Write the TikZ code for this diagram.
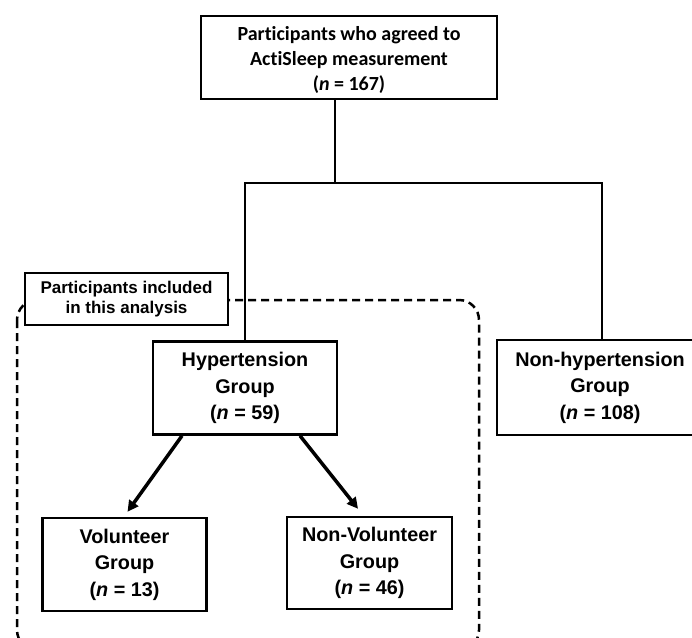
\documentclass[tikz,border=0pt]{standalone}
\usepackage{fontspec}
\setmainfont{Liberation Sans}
\newfontfamily\calibfont[Ligatures={NoCommon}]{Carlito}
\usetikzlibrary{arrows.meta}
\begin{document}
\begin{tikzpicture}[x=1pt,y=-1pt,
  box/.style={draw=black, line width=2.5pt, fill=white, inner sep=0pt, align=center,
    font=\bfseries\fontsize{19.8pt}{26.6pt}\selectfont},
  topbox/.style={box, font=\calibfont\bfseries\fontsize{20pt}{25.3pt}\selectfont},
  labelbox/.style={box, font=\bfseries\fontsize{17pt}{20pt}\selectfont},
  conn/.style={line width=2.5pt, line cap=rect},
  arr/.style={line width=3.5pt, -{Triangle[length=11pt,width=11pt]}},
  dashbox/.style={line width=2.5pt, dash pattern=on 8pt off 5pt, rounded corners=20pt}
]
\useasboundingbox (0,0) rectangle (692,637);
\clip (0,0) rectangle (692,637);
\fill[white] (0,0) rectangle (692,637);

% dashed region
\coordinate (dtl) at (17,300);
\coordinate (dbr) at (479,650);
\draw[dashbox] (dtl) rectangle (dbr);

% nodes
\node[topbox, minimum width=296pt, minimum height=83pt] (top) at (349,57.5) {};
\node[topbox, draw=none, fill=none] (toptext) at (349,60)
  {Participants who agreed to\\ActiSleep measurement\\(\textit{n} = 167)};
\node[box, minimum width=184pt, minimum height=93pt] (hyp) at (245,388)
  {Hypertension\\Group\\(\textit{n} = 59)};
\node[box, minimum width=206pt, minimum height=95pt] (nonhyp) at (600,387.5)
  {Non-hypertension\\Group\\(\textit{n} = 108)};
\node[box, minimum width=164pt, minimum height=93pt] (vol) at (124.5,564.5)
  {Volunteer\\Group\\(\textit{n} = 13)};
\node[box, minimum width=165pt, minimum height=92pt] (nonvol) at (369.5,563)
  {Non-Volunteer\\Group\\(\textit{n} = 46)};
\node[labelbox, minimum width=203pt, minimum height=52pt] (lab) at (126.5,299)
  {Participants included\\in this analysis};

% connectors
\coordinate (j) at (335,183);
\coordinate (jr) at (602,183);
\draw[conn] (top.south -| j) -- (j);
\draw[conn] (hyp.north) |- (jr) -- (nonhyp.north -| jr);

% arrows
\draw[arr] ([xshift=-63pt]hyp.south) -- ([xshift=3pt,yshift=5pt]vol.north);
\draw[arr] ([xshift=55pt]hyp.south) -- ([xshift=-11.5pt,yshift=7pt]nonvol.north);
\end{tikzpicture}
\end{document}
